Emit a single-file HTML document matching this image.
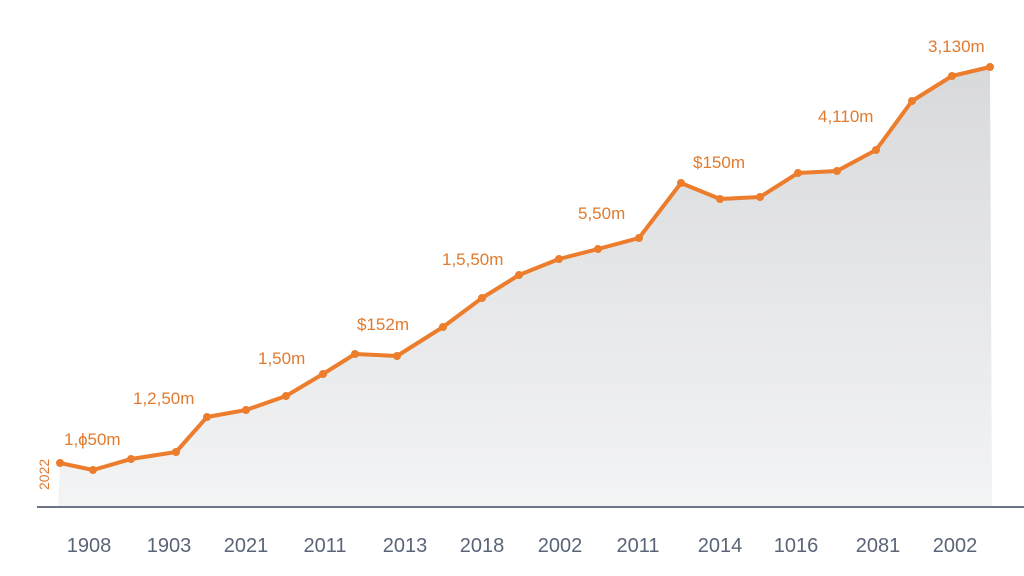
<!DOCTYPE html>
<html><head><style>html,body{margin:0;padding:0;background:#fff;}svg{display:block;}</style></head>
<body>
<svg width="1024" height="576" viewBox="0 0 1024 576" xmlns="http://www.w3.org/2000/svg">
<defs>
<linearGradient id="g" x1="0" y1="0" x2="0" y2="1">
<stop offset="0" stop-color="#d8d9db"/>
<stop offset="1" stop-color="#f3f4f5"/>
</linearGradient>
</defs>
<rect width="1024" height="576" fill="#fff"/>
<polygon fill="url(#g)" points="58,507 60,463 93,470 131,459 176,452 207,417 246,410 286,396 323,374 355,354 397,356 443,327 482,298 519,275 559,259 598,249 639,238 681,183 720,199 760,197 798,173 837,171 876,150 912,101 952,76 990,67 992,507"/>
<line x1="37" y1="507" x2="1024" y2="507" stroke="#6b7585" stroke-width="2"/>
<polyline fill="none" stroke="#ec7d2c" stroke-width="4" stroke-linejoin="round" points="60,463 93,470 131,459 176,452 207,417 246,410 286,396 323,374 355,354 397,356 443,327 482,298 519,275 559,259 598,249 639,238 681,183 720,199 760,197 798,173 837,171 876,150 912,101 952,76 990,67"/>
<g fill="#ec7d2c">
<circle cx="60" cy="463" r="4"/><circle cx="93" cy="470" r="4"/><circle cx="131" cy="459" r="4"/><circle cx="176" cy="452" r="4"/><circle cx="207" cy="417" r="4"/><circle cx="246" cy="410" r="4"/><circle cx="286" cy="396" r="4"/><circle cx="323" cy="374" r="4"/><circle cx="355" cy="354" r="4"/><circle cx="397" cy="356" r="4"/><circle cx="443" cy="327" r="4"/><circle cx="482" cy="298" r="4"/><circle cx="519" cy="275" r="4"/><circle cx="559" cy="259" r="4"/><circle cx="598" cy="249" r="4"/><circle cx="639" cy="238" r="4"/><circle cx="681" cy="183" r="4"/><circle cx="720" cy="199" r="4"/><circle cx="760" cy="197" r="4"/><circle cx="798" cy="173" r="4"/><circle cx="837" cy="171" r="4"/><circle cx="876" cy="150" r="4"/><circle cx="912" cy="101" r="4"/><circle cx="952" cy="76" r="4"/><circle cx="990" cy="67" r="4"/>
</g>
<g fill="#e07a2e" font-family="Liberation Sans, sans-serif" font-size="17">
<text x="64" y="445">1,ɸ50m</text>
<text x="133" y="404">1,2,50m</text>
<text x="258" y="364">1,50m</text>
<text x="357" y="330">$152m</text>
<text x="442" y="265">1,5,50m</text>
<text x="578" y="219">5,50m</text>
<text x="693" y="168">$150m</text>
<text x="818" y="122">4,110m</text>
<text x="928" y="52">3,130m</text>
<text transform="translate(49,490) rotate(-90)" font-size="14">2022</text>
</g>
<g fill="#5a6478" font-family="Liberation Sans, sans-serif" font-size="20" text-anchor="middle">
<text x="89" y="552">1908</text>
<text x="169" y="552">1903</text>
<text x="246" y="552">2021</text>
<text x="325" y="552">2011</text>
<text x="405" y="552">2013</text>
<text x="482" y="552">2018</text>
<text x="560" y="552">2002</text>
<text x="638" y="552">2011</text>
<text x="720" y="552">2014</text>
<text x="796" y="552">1016</text>
<text x="878" y="552">2081</text>
<text x="955" y="552">2002</text>
</g>
</svg>
</body></html>
